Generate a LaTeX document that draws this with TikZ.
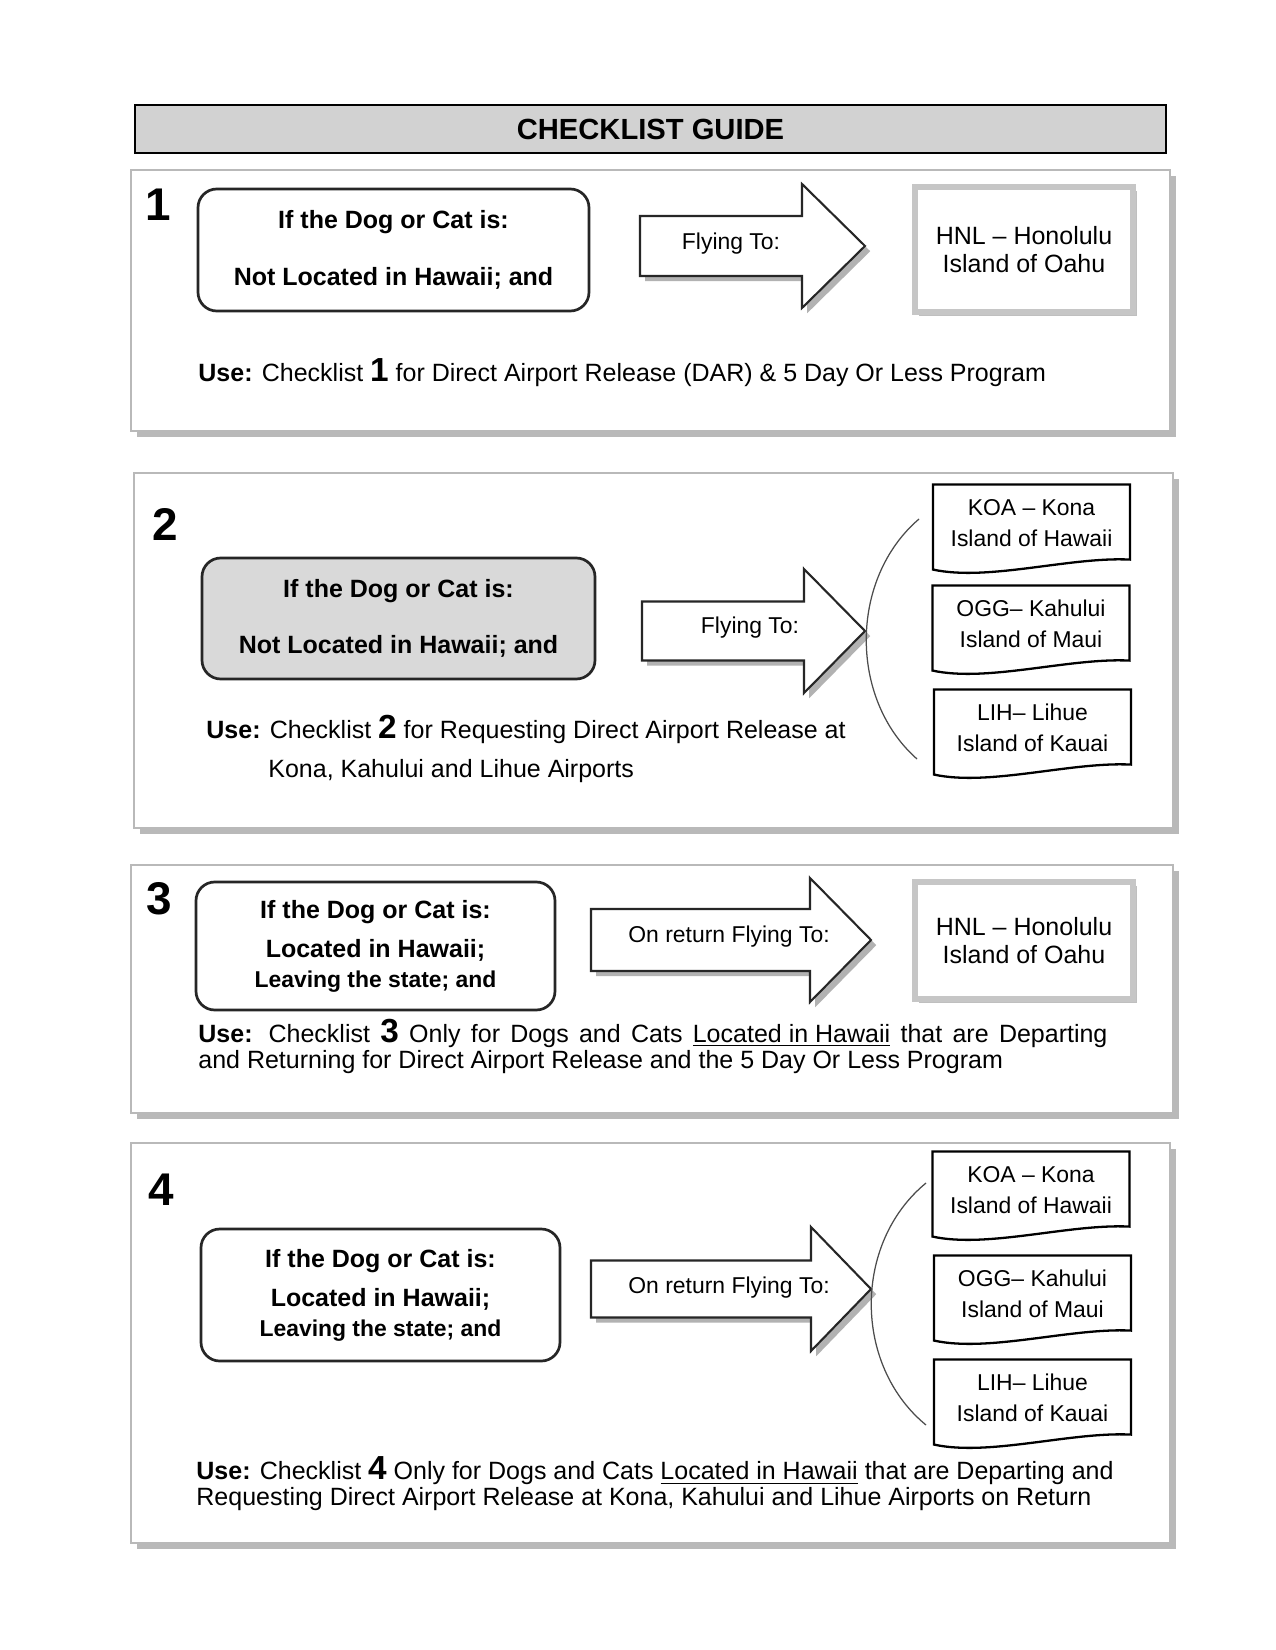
\documentclass[tikz,border=0pt]{standalone}
\usepackage{fontspec}
\setmainfont{Liberation Sans}
\usetikzlibrary{shadows,calc}
\newlength\pxu
\setlength\pxu{0.48pt}
\tikzset{
  titlebar/.style={draw, line width=1pt, fill=gray!35, font=\fontsize{14}{16}\selectfont\bfseries},
  panel/.style={draw=gray!55, fill=white, line width=0.8pt, drop shadow={shadow xshift=3pt, shadow yshift=-3pt, fill=gray!55, opacity=1}},
  bignum/.style={font=\fontsize{22}{22}\selectfont\bfseries},
  petbox/.style={draw=black!85, fill=white, line width=1.3pt, rounded corners=9pt, align=center, font=\fontsize{12}{14}\selectfont\bfseries},
  flytxt/.style={font=\fontsize{11}{13}\selectfont},
  arrowline/.style={draw=black!85, fill=white, line width=1pt, drop shadow={shadow xshift=2.5pt, shadow yshift=-2.5pt, fill=gray!60, opacity=1}},
  hnlbox/.style={draw=gray!45, line width=3pt, fill=white, align=center, font=\fontsize{12}{13.4}\selectfont, drop shadow={shadow xshift=2pt, shadow yshift=-2pt, fill=gray!50, opacity=1}},
  islandbox/.style={minimum width=196\pxu, minimum height=76\pxu, align=center, font=\fontsize{11}{15}\selectfont},
  docline/.style={draw=black, line width=1.1pt},
  usetxt/.style={anchor=west, inner sep=0pt, align=left, font=\fontsize{12}{12.5}\selectfont},
  bracket/.style={draw=black!70, line width=0.6pt},
}
\newcommand{\listnum}[1]{{\fontsize{16}{16}\selectfont\bfseries #1}}
% tail x, neck x, tip x, mid y, half body
\newcommand{\flyarrow}[5]{%
  \draw[arrowline] (#1,#4-#5) -- (#2,#4-#5) -- (#2,#4-62) -- (#3,#4) -- (#2,#4+62) -- (#2,#4+#5) -- (#1,#4+#5) -- cycle;}
\newcommand{\docoutline}[1]{%
  \draw[docline] (#1.north west) -- (#1.north east) -- ($(#1.north east)+(0,75)$)
    .. controls ($(#1.north east)+(-60,72)$) and ($(#1.north west)+(55,97)$) .. ($(#1.north west)+(0,85)$) -- cycle;}

\begin{document}
\begin{tikzpicture}[x=0.48pt, y=-0.48pt]
  \useasboundingbox (0,0) rectangle (1275,1650);
  \node[titlebar, minimum width=1031\pxu, minimum height=48\pxu] (title) at (650.5,129) {CHECKLIST GUIDE};

  % panels
  \node[panel, minimum width=1039\pxu, minimum height=261\pxu] (p1) at (650.5,300.5) {};
  \node[panel, minimum width=1039\pxu, minimum height=355\pxu] (p2) at (653.5,650.5) {};
  \node[panel, minimum width=1042\pxu, minimum height=248\pxu] (p3) at (652,989) {};
  \node[panel, minimum width=1039\pxu, minimum height=400\pxu] (p4) at (650.5,1343) {};

  \node[bignum] (n1) at (158,205) {1};
  \node[bignum] (n2) at (165,524) {2};
  \node[bignum] (n3) at (159,899) {3};
  \node[bignum] (n4) at (161,1190) {4};

  % 1
  \node[petbox, minimum width=391\pxu, minimum height=122\pxu] (b1) at (393.5,250) {If the Dog or Cat is:\\[13pt]Not Located in Hawaii; and};
  \flyarrow{640}{802}{865}{246}{30}
  \node[flytxt] (f1) at (731,244) {Flying To:};
  \node[hnlbox, minimum width=218\pxu, minimum height=125\pxu] (hnl1) at (1024,249.5) {HNL – Honolulu\\Island of Oahu};
  \node[usetxt] (u1) at (198,373) {\textbf{Use:} Checklist \listnum{1} for Direct Airport Release (DAR) \& 5 Day Or Less Program};

  % 2
  \node[petbox, fill=gray!30, minimum width=393\pxu, minimum height=121\pxu] (b2) at (398.5,618.5) {If the Dog or Cat is:\\[13pt]Not Located in Hawaii; and};
  \flyarrow{642}{804}{865}{631}{29.5}
  \node[flytxt] (f2) at (750,628) {Flying To:};
  \draw[bracket] (919,519) .. controls (849,579) and (849,699) .. (917,759);
  \node[islandbox] (koa2) at (1031.5,523) {KOA – Kona\\Island of Hawaii};
  \node[islandbox] (ogg2) at (1031,624) {OGG– Kahului\\Island of Maui};
  \node[islandbox] (lih2) at (1032.5,728) {LIH– Lihue\\Island of Kauai};
  \docoutline{koa2}
  \docoutline{ogg2}
  \docoutline{lih2}
  \node[usetxt] (u2) at (206,749) {\textbf{Use:} Checklist \listnum{2} for Requesting Direct Airport Release at\\[6.5pt]\hspace*{62\pxu}Kona, Kahului and Lihue Airports};

  % 3
  \node[petbox, minimum width=359\pxu, minimum height=128\pxu] (b3) at (375.5,946) {If the Dog or Cat is:\\[5pt]Located in Hawaii;\\{\fontsize{11}{13}\selectfont Leaving the state; and}};
  \flyarrow{591}{810}{871}{940}{31}
  \node[flytxt] (f3) at (729,937) {On return Flying To:};
  \node[hnlbox, minimum width=218\pxu, minimum height=117\pxu] (hnl3) at (1024,940.5) {HNL – Honolulu\\Island of Oahu};
  \node[usetxt] (u3) at (198,1046) {\makebox[909\pxu][s]{\textbf{Use:} Checklist \listnum{3} Only for Dogs and Cats \underline{Located\ in\ Hawaii} that are Departing}\\and Returning for Direct Airport Release and the 5 Day Or Less Program};

  % 4
  \node[petbox, minimum width=359\pxu, minimum height=132\pxu] (b4) at (380.5,1295) {If the Dog or Cat is:\\[5pt]Located in Hawaii;\\{\fontsize{11}{13}\selectfont Leaving the state; and}};
  \flyarrow{591}{811}{871}{1289}{28.5}
  \node[flytxt] (f4) at (729,1288) {On return Flying To:};
  \draw[bracket] (926,1183) .. controls (853,1243) and (853,1365) .. (926,1425);
  \node[islandbox] (koa4) at (1031,1190) {KOA – Kona\\Island of Hawaii};
  \node[islandbox] (ogg4) at (1032.5,1294) {OGG– Kahului\\Island of Maui};
  \node[islandbox] (lih4) at (1032.5,1398) {LIH– Lihue\\Island of Kauai};
  \docoutline{koa4}
  \docoutline{ogg4}
  \docoutline{lih4}
  \node[usetxt] (u4) at (196,1484) {\textbf{Use:} Checklist \listnum{4} Only for Dogs and Cats \underline{Located in Hawaii} that are Departing and\\Requesting Direct Airport Release at Kona, Kahului and Lihue Airports on Return};
\end{tikzpicture}
\end{document}
